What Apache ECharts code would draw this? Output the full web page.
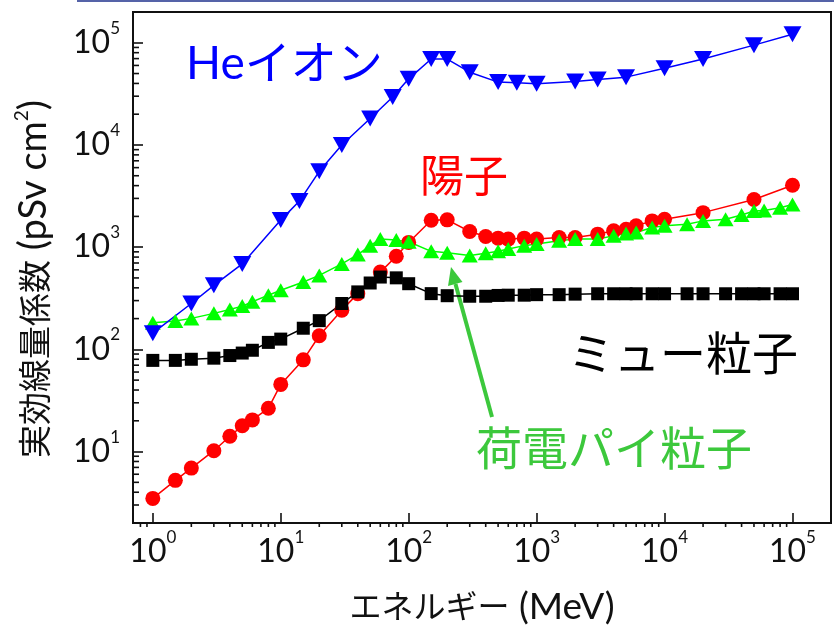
<!DOCTYPE html>
<html><head><meta charset="utf-8">
<script src="https://cdn.jsdelivr.net/npm/echarts@6/dist/echarts.min.js"></script>
<style>html,body{margin:0;padding:0;background:#fff}#c{width:834px;height:631px}</style>
</head><body><div id="c"></div>
<script>
// ---- data (energy in MeV, coefficient in pSv cm^2) ----
const protonE = [1, 1.5, 2, 3, 4, 5, 6, 8, 10, 15, 20, 30, 40, 60, 80, 100, 150, 200, 300, 400, 500, 600, 800, 1000, 1500, 2000, 3000, 4000, 5000, 6000, 8000, 10000, 20000, 50000, 100000];
const protonV = [3.48, 5.23, 6.89, 10.2, 14.1, 17.9, 20.4, 26.5, 45.4, 79, 136, 242, 351, 570, 814, 1113, 1832, 1850, 1423, 1273, 1225, 1199, 1225, 1199, 1245, 1245, 1340, 1445, 1499, 1618, 1808, 1874, 2177, 2930, 4036];

const muonE = [1, 1.5, 2, 3, 4, 5, 6, 8, 10, 15, 20, 30, 40, 50, 60, 80, 100, 150, 200, 300, 400, 500, 600, 800, 1000, 1500, 2000, 3000, 4000, 5000, 6000, 8000, 10000, 15000, 20000, 30000, 40000, 50000, 60000, 80000, 100000];
const muonV = [78, 78, 80, 82, 87, 92, 98, 117, 126, 161, 191, 281, 365, 446, 510, 501, 439, 351, 335, 331, 331, 337, 339, 339, 343, 343, 347, 350, 350, 350, 350, 350, 350, 350, 350, 350, 350, 350, 350, 350, 350];

const pionE = [1, 1.5, 2, 3, 4, 5, 6, 8, 10, 15, 20, 30, 40, 50, 60, 80, 100, 150, 200, 300, 400, 500, 600, 800, 1000, 1500, 2000, 3000, 4000, 5000, 6000, 8000, 10000, 15000, 20000, 30000, 40000, 50000, 60000, 80000, 100000];
const pionV = [182, 189, 201, 225, 245, 265, 292, 339, 379, 456, 529, 686, 846, 1035, 1200, 1172, 1130, 910, 880, 827, 871, 910, 959, 1035, 1072, 1156, 1199, 1199, 1294, 1362, 1393, 1556, 1617, 1677, 1808, 1874, 2066, 2258, 2290, 2431, 2618];

const heE = [1, 2, 3, 5, 10, 14, 20, 30, 50, 75, 100, 150, 200, 300, 500, 700, 1000, 2000, 3000, 5000, 10000, 20000, 50000, 100000];
const heV = [144, 281, 423, 686, 1840, 2825, 5520, 10000, 18150, 29450, 44360, 69300, 69300, 51500, 41200, 40550, 39650, 41800, 43700, 46100, 56300, 69300, 94800, 121000];

const xMin = 0.7, xMax = 2e5, yMin = 2, yMax = 2e5;
const seriesNames = ['陽子', 'ミュー粒子', '荷電パイ粒子', 'Heイオン'];

const GRID = { left: 133, top: 12, width: 705, height: 516 };

function pairs(xs, ys) { return xs.map((x, i) => [x, ys[i]]); }
function logTicks(lo, hi) {
  const out = [];
  for (let n = -2; n <= 6; n++) for (let k = 1; k <= 9; k++) {
    const v = k * Math.pow(10, n);
    if (v > lo * 1.0001 && v < hi * 0.9999) out.push({ v: v, major: k === 1 });
  }
  return out;
}

function isPow10(v) { const l = Math.log10(v); return Math.abs(l - Math.round(l)) < 1e-6; }
function powLabel(v) { return isPow10(v) ? '{b|10}{s|' + Math.round(Math.log10(v)) + '}' : ''; }

const FONT = 'Lato, "Noto Sans CJK JP", sans-serif';
const labelRich = {
  b: { fontSize: 32, lineHeight: 32, fontFamily: FONT, color: '#111', verticalAlign: 'bottom' },
  s: { fontSize: 17, lineHeight: 17, fontFamily: FONT, color: '#111', verticalAlign: 'bottom', padding: [0, 0, 22, 0] }
};

const chart = echarts.init(document.getElementById('c'), null, { renderer: 'canvas' });

function lineSeries(name, data, color, symbol, size, rotate) {
  return {
    name: name, type: 'line', data: data, symbol: symbol, symbolSize: size, symbolRotate: rotate || 0,
    showAllSymbol: true,
    lineStyle: { color: color, width: 1.5 }, itemStyle: { color: color }, animation: false, z: 3
  };
}

const baseGraphic = [
  { type: 'rect', left: 77, top: 0, shape: { width: 757, height: 2 }, style: { fill: '#5563a8' } },
  { type: 'text', x: 186, y: 64, style: { text: 'Heイオン', fill: '#0000ff', font: '46px ' + FONT, textAlign: 'left', textVerticalAlign: 'middle' } },
  { type: 'text', x: 420, y: 178, style: { text: '陽子', fill: '#ff0000', font: '44px ' + FONT, textAlign: 'left', textVerticalAlign: 'middle' } },
  { type: 'text', x: 568, y: 355, style: { text: 'ミュー粒子', fill: '#000000', font: '46px ' + FONT, textAlign: 'left', textVerticalAlign: 'middle' } },
  { type: 'text', x: 476, y: 450, style: { text: '荷電パイ粒子', fill: '#3cc83c', font: '46px ' + FONT, textAlign: 'left', textVerticalAlign: 'middle' } },
  { type: 'line', shape: { x1: 492, y1: 417, x2: 455.5, y2: 284 }, style: { stroke: '#3cc83c', lineWidth: 4 } },
  { type: 'polygon', shape: { points: [[451, 267], [462.5, 282], [448, 286]] }, style: { fill: '#3cc83c' } }
];

const majorTick = { show: true, inside: true, length: 10, lineStyle: { color: '#111', width: 1.6 } };

const option = {
  animation: false,
  grid: { left: GRID.left, top: GRID.top, width: GRID.width, height: GRID.height, show: true, borderColor: '#111', borderWidth: 2 },
  xAxis: {
    type: 'log', logBase: 10, min: xMin, max: xMax,
    name: '{j|エネルギー}{l| (MeV)}', nameLocation: 'middle', nameGap: 66,
    nameTextStyle: { fontSize: 32, fontFamily: FONT, color: '#111',
      rich: { j: { fontSize: 32, fontFamily: FONT, color: '#111' }, l: { fontSize: 37, fontFamily: FONT, color: '#111' } } },
    axisLine: { lineStyle: { color: '#111', width: 2 } },
    axisTick: majorTick, splitLine: { show: false },
    axisLabel: { margin: 13, formatter: powLabel, rich: labelRich }
  },
  yAxis: {
    type: 'log', logBase: 10, min: yMin, max: yMax,
    name: '{j|実効線量係数}{l| (pSv cm}{s|2}{l|)}', nameLocation: 'middle', nameGap: 80, nameRotate: 90,
    nameTextStyle: { fontSize: 33, fontFamily: FONT, color: '#111', padding: [0, 23, 0, 0],
      rich: {
        j: { fontSize: 33, fontFamily: FONT, color: '#111', verticalAlign: 'bottom' },
        l: { fontSize: 38, fontFamily: FONT, color: '#111', verticalAlign: 'bottom' },
        s: { fontSize: 19, fontFamily: FONT, color: '#111', verticalAlign: 'bottom', padding: [0, 0, 22, 0] }
      } },
    axisLine: { lineStyle: { color: '#111', width: 2 } },
    axisTick: majorTick, splitLine: { show: false },
    axisLabel: { margin: 13, formatter: powLabel, rich: labelRich }
  },
  series: [
    lineSeries(seriesNames[0], pairs(protonE, protonV), '#ff0000', 'circle', 15),
    lineSeries(seriesNames[1], pairs(muonE, muonV), '#000000', 'rect', 13),
    lineSeries(seriesNames[2], pairs(pionE, pionV), '#00ff00', 'triangle', [16, 14]),
    lineSeries(seriesNames[3], pairs(heE, heV), '#0000ff', 'triangle', [18, 16], 180)
  ]
};
chart.setOption(option);

// minor tick marks (inward): positions along each axis come from the chart's own log scales,
// converted with an interior value on the other axis; the axis line itself is the grid edge.
const axisBottom = GRID.top + GRID.height, axisLeft = GRID.left;
const tickEls = [];
try {
  logTicks(xMin, xMax).forEach(t => {
    if (t.major) return;
    const p = chart.convertToPixel({ gridIndex: 0 }, [t.v, 100]);
    if (!p || !isFinite(p[0])) return;
    tickEls.push({ type: 'line', shape: { x1: p[0], y1: axisBottom - 1, x2: p[0], y2: axisBottom - 6 }, style: { stroke: '#111', lineWidth: 1.6 } });
  });
  logTicks(yMin, yMax).forEach(t => {
    if (t.major) return;
    const p = chart.convertToPixel({ gridIndex: 0 }, [10, t.v]);
    if (!p || !isFinite(p[1])) return;
    tickEls.push({ type: 'line', shape: { x1: axisLeft + 1, y1: p[1], x2: axisLeft + 6, y2: p[1] }, style: { stroke: '#111', lineWidth: 1.6 } });
  });
} catch (e) { /* keep chart without minor ticks */ }
chart.setOption({ graphic: baseGraphic.concat(tickEls) });
</script>
</body></html>
